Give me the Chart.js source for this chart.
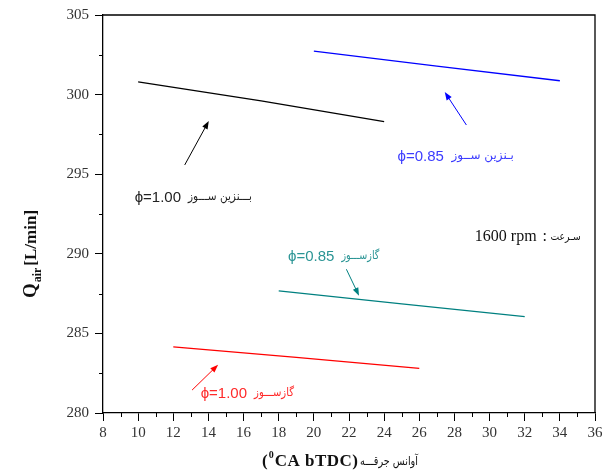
<!DOCTYPE html>
<html>
<head>
<meta charset="utf-8">
<script src="https://cdn.jsdelivr.net/npm/chart.js@4.4.1/dist/chart.umd.min.js"></script>
<style>
html,body{margin:0;padding:0;background:#fff;}
#wrap{width:609px;height:471px;position:relative;}
</style>
</head>
<body>
<div id="wrap"><canvas id="c" width="609" height="471"></canvas></div>
<script>
// ---- data ----
const petrol100X = [10, 17, 24];
const petrol100Y = [300.8, 299.6, 298.3];
const petrol085X = [20, 27, 34];
const petrol085Y = [302.73, 301.79, 300.87];
const cng085X = [18, 25, 32];
const cng085Y = [287.67, 286.86, 286.06];
const cng100X = [12, 19, 26];
const cng100Y = [284.16, 283.5, 282.8];
const xTicks = [8, 36, 2];
const yTicks = [280, 305, 5];

// annotation texts
const labelPhi = ['ϕ=1.00', 'ϕ=0.85', 'ϕ=0.85', 'ϕ=1.00'];
const labelFa = ['بـــنزین ســـوز', 'بـنزین ســوز', 'گازســـوز', 'گازســـوز'];
const labelColor = ['#222222', '#3c3cff', '#2b9595', '#ff2a2a'];
const labelX = [9.80, 24.76, 18.53, 13.56];
const labelY = [293.51, 296.1, 289.82, 281.19];
const labelFaW = [64, 63, 38, 40];
const arrowFrom = [[12.65, 295.58], [28.68, 298.09], [21.85, 289.03], [13.07, 281.44]];
const arrowTo = [[14.02, 298.34], [27.45, 300.16], [22.57, 287.37], [14.55, 283.03]];
const arrowColor = ['#000000', '#0000ff', '#008080', '#ff0000'];

function pts(xs, ys){ return xs.map((x,i)=>({x:x, y:ys[i]})); }

const SERIF = '"Liberation Serif", "Times New Roman", serif';
const SANS = '"Liberation Sans", Arial, sans-serif';
const FA = '"DejaVu Sans", "Noto Sans", sans-serif';

const decor = {
  id: 'decor',
  afterDraw(chart){
    const ctx = chart.ctx, xs = chart.scales.x, ys = chart.scales.y, a = chart.chartArea;
    ctx.save();
    // frame top/right
    ctx.strokeStyle = '#000'; ctx.lineWidth = 1.3;
    ctx.beginPath();
    ctx.moveTo(a.left, a.top); ctx.lineTo(a.right, a.top); ctx.lineTo(a.right, a.bottom);
    ctx.stroke();
    // minor ticks
    ctx.lineWidth = 1;
    ctx.beginPath();
    for (let v = xTicks[0] + 1; v < xTicks[1]; v += 2) {
      const px = Math.round(xs.getPixelForValue(v)) + 0.5;
      ctx.moveTo(px, a.bottom); ctx.lineTo(px, a.bottom + 4);
    }
    for (let v = yTicks[0] + 2.5; v < yTicks[1]; v += 5) {
      const py = Math.round(ys.getPixelForValue(v)) + 0.5;
      ctx.moveTo(a.left - 4, py); ctx.lineTo(a.left, py);
    }
    ctx.stroke();

    // arrows
    for (let i = 0; i < arrowFrom.length; i++) {
      const x1 = xs.getPixelForValue(arrowFrom[i][0]), y1 = ys.getPixelForValue(arrowFrom[i][1]);
      const x2 = xs.getPixelForValue(arrowTo[i][0]), y2 = ys.getPixelForValue(arrowTo[i][1]);
      const ang = Math.atan2(y2 - y1, x2 - x1);
      ctx.strokeStyle = arrowColor[i]; ctx.fillStyle = arrowColor[i]; ctx.lineWidth = 1;
      ctx.beginPath(); ctx.moveTo(x1, y1);
      ctx.lineTo(x2 - 6*Math.cos(ang), y2 - 6*Math.sin(ang)); ctx.stroke();
      ctx.beginPath();
      ctx.moveTo(x2, y2);
      ctx.lineTo(x2 - 8*Math.cos(ang) + 3*Math.sin(ang), y2 - 8*Math.sin(ang) - 3*Math.cos(ang));
      ctx.lineTo(x2 - 8*Math.cos(ang) - 3*Math.sin(ang), y2 - 8*Math.sin(ang) + 3*Math.cos(ang));
      ctx.closePath(); ctx.fill();
    }

    // labels
    ctx.textBaseline = 'middle';
    for (let i = 0; i < labelPhi.length; i++) {
      const px = xs.getPixelForValue(labelX[i]), py = ys.getPixelForValue(labelY[i]);
      ctx.fillStyle = labelColor[i];
      ctx.font = '15px ' + SANS;
      ctx.textAlign = 'left';
      ctx.direction = 'ltr';
      ctx.fillText(labelPhi[i], px, py);
      const w = ctx.measureText(labelPhi[i]).width;
      ctx.font = '12px ' + FA;
      ctx.direction = 'rtl';
      ctx.textAlign = 'right';
      const startX = px + w + 7;
      ctx.fillText(labelFa[i], startX + labelFaW[i], py - 1, labelFaW[i]);
    }
    // speed label
    {
      const px = xs.getPixelForValue(29.16), py = ys.getPixelForValue(291.08);
      ctx.direction = 'ltr'; ctx.textAlign = 'left';
      ctx.fillStyle = '#111';
      ctx.font = '16px ' + SERIF;
      ctx.fillText('1600 rpm', px, py);
      const w = ctx.measureText('1600 rpm').width;
      ctx.fillText(':', px + w + 6, py);
      ctx.font = '11px ' + FA;
      ctx.direction = 'rtl'; ctx.textAlign = 'right';
      ctx.fillText('سـرعت', px + w + 6 + 38, py + 1, 30);
    }

    // x axis title
    {
      ctx.direction = 'ltr'; ctx.textAlign = 'left'; ctx.textBaseline = 'alphabetic';
      ctx.fillStyle = '#111';
      let x = 262; const y = 466;
      ctx.font = 'bold 17px ' + SERIF;
      ctx.fillText('(', x, y); x += ctx.measureText('(').width + 1;
      ctx.font = 'bold 10px ' + SERIF;
      ctx.fillText('0', x, y - 8); x += ctx.measureText('0').width + 1;
      ctx.font = 'bold 17px ' + SERIF;
      ctx.letterSpacing = '0.5px';
      ctx.fillText('CA bTDC)', x, y); x += ctx.measureText('CA bTDC)').width + 4;
      ctx.letterSpacing = '0px';
      ctx.font = '12px ' + FA;
      ctx.direction = 'rtl'; ctx.textAlign = 'right';
      ctx.fillText('آوانس جرقـــه', 418, y - 1, 58);
    }
    // y axis title
    {
      ctx.save();
      ctx.translate(36, 254);
      ctx.rotate(-Math.PI/2);
      ctx.direction = 'ltr'; ctx.textAlign = 'left'; ctx.textBaseline = 'alphabetic';
      ctx.fillStyle = '#111';
      ctx.font = 'bold 19px ' + SERIF;
      const wq = ctx.measureText('Q').width;
      ctx.font = 'bold 12px ' + SERIF;
      const wa = ctx.measureText('air').width;
      ctx.font = 'bold 17px ' + SERIF;
      const wl = ctx.measureText('[L/min]').width;
      let x = -(wq + wa + wl + 3) / 2;
      ctx.font = 'bold 19px ' + SERIF;
      ctx.fillText('Q', x, 0); x += wq + 1;
      ctx.font = 'bold 12px ' + SERIF;
      ctx.fillText('air', x, 5); x += wa + 2;
      ctx.font = 'bold 17px ' + SERIF;
      ctx.fillText('[L/min]', x, 0);
      ctx.restore();
    }
    ctx.restore();
  }
};

new Chart(document.getElementById('c'), {
  type: 'line',
  data: {
    datasets: [
      { data: pts(petrol100X, petrol100Y), borderColor: '#000000' },
      { data: pts(petrol085X, petrol085Y), borderColor: '#0000ff' },
      { data: pts(cng085X, cng085Y), borderColor: '#008080' },
      { data: pts(cng100X, cng100Y), borderColor: '#ff0000' }
    ]
  },
  options: {
    responsive: false,
    animation: false,
    devicePixelRatio: 1,
    layout: { padding: { top: 15, right: 14, left: 0, bottom: 0 } },
    elements: { point: { radius: 0 }, line: { borderWidth: 1.3, tension: 0 } },
    plugins: { legend: { display: false }, tooltip: { enabled: false }, title: { display: false } },
    scales: {
      x: {
        type: 'linear', min: xTicks[0], max: xTicks[1],
        ticks: { stepSize: xTicks[2], color: '#333', font: { family: SERIF, size: 15 }, padding: 3, maxRotation: 0 },
        grid: { display: true, drawOnChartArea: false, tickLength: 8, tickColor: '#000', tickWidth: 1 },
        border: { color: '#000', width: 1.3 },
        afterFit(s){ s.height = 58; }
      },
      y: {
        type: 'linear', min: yTicks[0], max: yTicks[1],
        ticks: { stepSize: yTicks[2], color: '#333', font: { family: SERIF, size: 15 }, padding: 6 },
        grid: { display: true, drawOnChartArea: false, tickLength: 8, tickColor: '#000', tickWidth: 1 },
        border: { color: '#000', width: 1.3 },
        afterFit(s){ s.width = 103; }
      }
    }
  },
  plugins: [decor]
});
</script>
</body>
</html>
